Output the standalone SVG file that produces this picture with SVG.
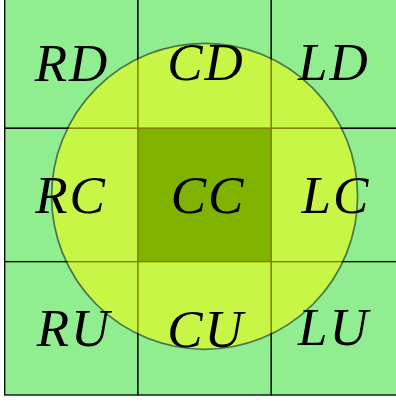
<svg xmlns="http://www.w3.org/2000/svg" width="396" height="402" viewBox="0 0 396 402">
<style>
.cell{fill:#90EE90;stroke:#000;stroke-width:1.3}
.center{fill:#006400}
.lbl{font-family:"Liberation Serif","DejaVu Serif",serif;font-style:italic;font-size:53px;fill:#000;text-anchor:middle;letter-spacing:2px}
</style>
<rect width="396" height="402" fill="#fff"/>
<g id="cells">
<g id="RD-cell"><rect class="cell" x="4.7" y="-5" width="133.3" height="133.3"/></g>
<g id="CD-cell"><rect class="cell" x="138" y="-5" width="133.3" height="133.3"/></g>
<g id="LD-cell"><rect class="cell" x="271.3" y="-5" width="133.3" height="133.3"/></g>
<g id="RC-cell"><rect class="cell" x="4.7" y="128.3" width="133.3" height="133.3"/></g>
<g id="CC-cell"><rect class="cell center" x="138" y="128.3" width="133.3" height="133.3"/></g>
<g id="LC-cell"><rect class="cell" x="271.3" y="128.3" width="133.3" height="133.3"/></g>
<g id="RU-cell"><rect class="cell" x="4.7" y="261.7" width="133.3" height="133.3"/></g>
<g id="CU-cell"><rect class="cell" x="138" y="261.7" width="133.3" height="133.3"/></g>
<g id="LU-cell"><rect class="cell" x="271.3" y="261.7" width="133.3" height="133.3"/></g>
</g>
<g id="circle" opacity="0.5"><circle cx="204.6" cy="196.3" r="153" fill="#FFFF00" stroke="#000" stroke-width="1.7"/></g>
<g id="labels">
<g id="RD"><text class="lbl" x="72" y="81">RD</text></g>
<g id="CD"><text class="lbl" x="206" y="80">CD</text></g>
<g id="LD"><text class="lbl" x="334" y="80">LD</text></g>
<g id="RC"><text class="lbl" x="71" y="213">RC</text></g>
<g id="CC"><text class="lbl" x="208" y="213">CC</text></g>
<g id="LC"><text class="lbl" x="336" y="213">LC</text></g>
<g id="RU"><text class="lbl" x="74" y="346">RU</text></g>
<g id="CU"><text class="lbl" x="206" y="347">CU</text></g>
<g id="LU"><text class="lbl" x="334" y="345">LU</text></g>
</g>
</svg>
